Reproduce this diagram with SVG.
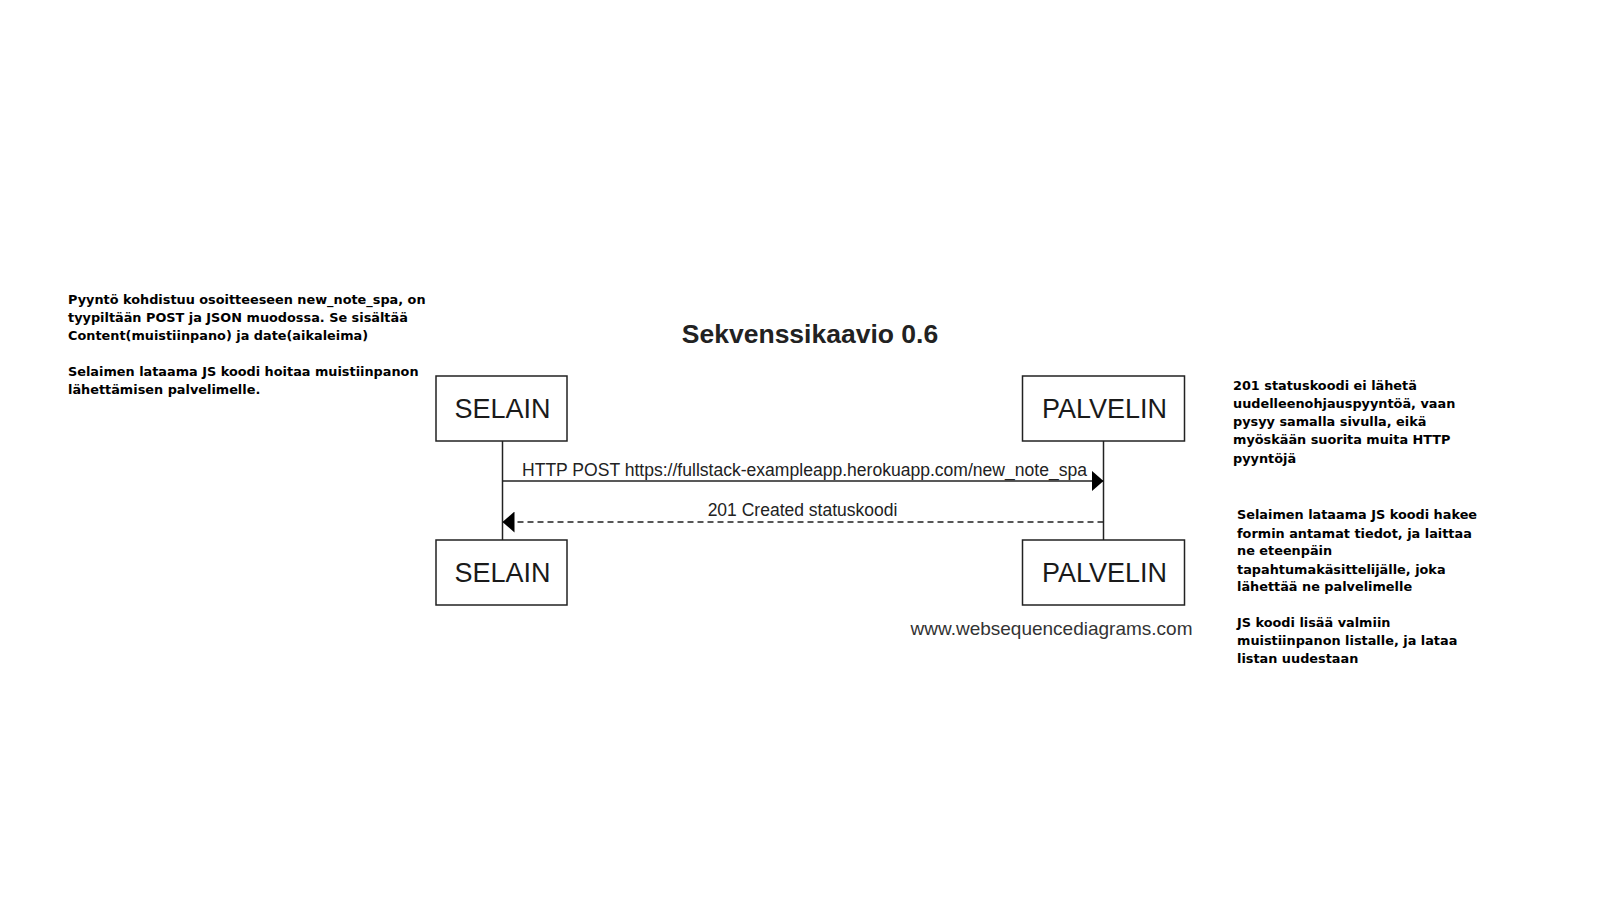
<svg xmlns="http://www.w3.org/2000/svg" width="1608" height="909" viewBox="0 0 1608 909">
<defs>
<style>
.note{font-family:"DejaVu Sans",Verdana,sans-serif;font-weight:bold;font-size:12.85px;fill:#000}
.box{fill:#fff;stroke:#222;stroke-width:1.5}
.lbl{font-family:"Liberation Sans",Arial,sans-serif;font-size:27px;fill:#1a1a1a;text-anchor:middle}
.msg{font-family:"Liberation Sans",Arial,sans-serif;font-size:17.5px;fill:#222}
.life{stroke:#222;stroke-width:1.5}
</style>
<marker id="ah" markerWidth="12" markerHeight="21" refX="12" refY="10.5" orient="auto" markerUnits="userSpaceOnUse">
<path d="M0,0 L12,10.5 L0,21 Z" fill="#000"/>
</marker>
</defs>
<rect width="1608" height="909" fill="#fff"/>
<text x="810" y="343" text-anchor="middle" font-family="'Liberation Sans',Arial,sans-serif" font-weight="bold" font-size="26.5" fill="#222">Sekvenssikaavio 0.6</text>
<g id="connectors">
<line class="life" x1="502.5" y1="441" x2="502.5" y2="540"/>
<line class="life" x1="1103.5" y1="441" x2="1103.5" y2="540"/>
<line x1="502.5" y1="481" x2="1103.5" y2="481" stroke="#222" stroke-width="1.5" marker-end="url(#ah)"/>
<text class="msg" x="522" y="476" textLength="565" lengthAdjust="spacingAndGlyphs">HTTP POST https://fullstack-exampleapp.herokuapp.com/new_note_spa</text>
<line x1="1103.5" y1="522" x2="502.5" y2="522" stroke="#222" stroke-width="1.5" stroke-dasharray="6,4" marker-end="url(#ah)"/>
<text class="msg" x="802.5" y="516" text-anchor="middle">201 Created statuskoodi</text>
</g>
<g id="selain-top"><rect class="box" x="436" y="376" width="131" height="65"/><text class="lbl" x="502.5" y="418">SELAIN</text></g>
<g id="palvelin-top"><rect class="box" x="1022.5" y="376" width="162" height="65"/><text class="lbl" x="1104.5" y="418">PALVELIN</text></g>
<g id="selain-bottom"><rect class="box" x="436" y="540" width="131" height="65"/><text class="lbl" x="502.5" y="582">SELAIN</text></g>
<g id="palvelin-bottom"><rect class="box" x="1022.5" y="540" width="162" height="65"/><text class="lbl" x="1104.5" y="582">PALVELIN</text></g>
<text x="1051.5" y="635" text-anchor="middle" font-family="'Liberation Sans',Arial,sans-serif" font-size="19" fill="#333">www.websequencediagrams.com</text>
<g id="note-left" class="note">
<text x="68" y="303.5">Pyyntö kohdistuu osoitteeseen new_note_spa, on</text>
<text x="68" y="321.5">tyypiltään POST ja JSON muodossa. Se sisältää</text>
<text x="68" y="339.5">Content(muistiinpano) ja date(aikaleima)</text>
<text x="68" y="375.5">Selaimen lataama JS koodi hoitaa muistiinpanon</text>
<text x="68" y="393.5">lähettämisen palvelimelle.</text>
</g>
<g id="note-right-top" class="note">
<text x="1233" y="390">201 statuskoodi ei lähetä</text>
<text x="1233" y="408">uudelleenohjauspyyntöä, vaan</text>
<text x="1233" y="426">pysyy samalla sivulla, eikä</text>
<text x="1233" y="444">myöskään suorita muita HTTP</text>
<text x="1233" y="462.5">pyyntöjä</text>
</g>
<g id="note-right-bottom" class="note">
<text x="1237" y="519">Selaimen lataama JS koodi hakee</text>
<text x="1237" y="537.5">formin antamat tiedot, ja laittaa</text>
<text x="1237" y="555">ne eteenpäin</text>
<text x="1237" y="573.5">tapahtumakäsittelijälle, joka</text>
<text x="1237" y="591">lähettää ne palvelimelle</text>
<text x="1237" y="627">JS koodi lisää valmiin</text>
<text x="1237" y="645">muistiinpanon listalle, ja lataa</text>
<text x="1237" y="662.5">listan uudestaan</text>
</g>
</svg>
